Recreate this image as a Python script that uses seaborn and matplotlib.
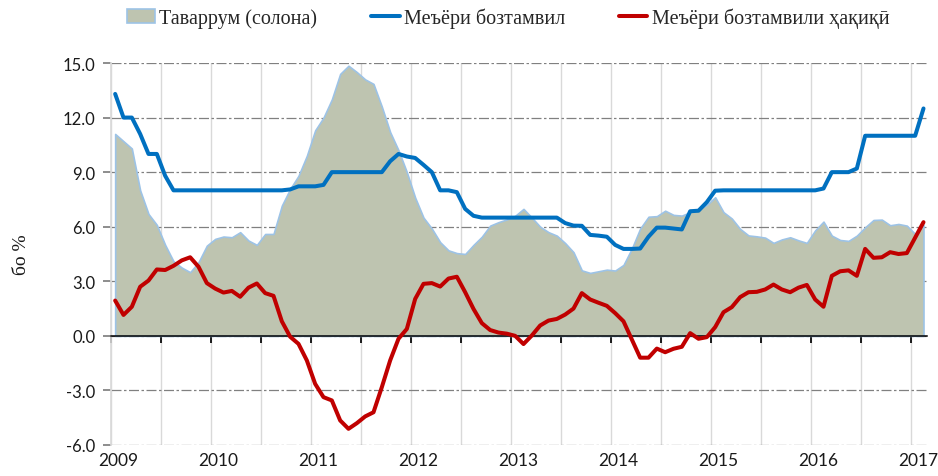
import numpy as np
import pandas as pd
import matplotlib
matplotlib.use("Agg")
import matplotlib.pyplot as plt
from matplotlib.patches import Patch
from matplotlib.lines import Line2D
from matplotlib.ticker import FormatStrFormatter
import seaborn as sns

# monthly data, Jan 2009 - Feb 2017
months = pd.date_range("2009-01-01", periods=98, freq="MS")

inflation = [11.1, 10.7, 10.3, 8.0, 6.7, 6.1, 5.0, 4.1, 3.75, 3.5,
             4.05, 4.96, 5.33, 5.46, 5.42, 5.7, 5.24, 5.0, 5.6, 5.6,
             7.16, 8.08, 8.8, 9.9, 11.3, 12.0, 13.0, 14.4, 14.85, 14.5,
             14.1, 13.85, 12.6, 11.2, 10.2, 9.0, 7.6, 6.5, 5.9, 5.15,
             4.7, 4.55, 4.5, 5.0, 5.45, 6.06, 6.25, 6.4, 6.6, 6.98,
             6.5, 6.0, 5.7, 5.51, 5.1, 4.6, 3.6, 3.46, 3.55, 3.64,
             3.59, 3.9, 4.8, 5.9, 6.55, 6.58, 6.88, 6.65, 6.61, 6.8,
             6.98, 7.2, 7.62, 6.8, 6.45, 5.88, 5.52, 5.47, 5.4, 5.11,
             5.3, 5.42, 5.25, 5.11, 5.8, 6.28, 5.51, 5.27, 5.22, 5.51,
             5.97, 6.37, 6.39, 6.08, 6.15, 6.06, 5.6, 6.1]

refi_rate = [13.3, 12.0, 12.0, 11.1, 10.0, 10.0, 8.8, 8.0,
             8.0, 8.0, 8.0, 8.0, 8.0, 8.0, 8.0, 8.0, 8.0, 8.0, 8.0, 8.0, 8.0,
             8.05, 8.22, 8.22, 8.22, 8.3, 9.0, 9.0, 9.0, 9.0, 9.0, 9.0, 9.0,
             9.6, 10.0, 9.86, 9.78, 9.4, 9.0, 8.0, 8.0, 7.9, 6.98, 6.6,
             6.5, 6.5, 6.5, 6.5, 6.5, 6.5, 6.5, 6.5, 6.5, 6.5,
             6.2, 6.06, 6.05, 5.55, 5.51, 5.45, 5.0, 4.78, 4.78, 4.8,
             5.45, 5.95, 5.95, 5.9, 5.85, 6.85, 6.88, 7.35, 7.98,
             8.0, 8.0, 8.0, 8.0, 8.0, 8.0, 8.0, 8.0, 8.0, 8.0, 8.0, 8.0,
             8.1, 9.0, 9.0, 9.0, 9.2, 11.0,
             11.0, 11.0, 11.0, 11.0, 11.0, 11.0, 12.5]

real_rate = [1.94, 1.15, 1.6, 2.7, 3.04, 3.65, 3.62, 3.85, 4.15, 4.32,
             3.8, 2.9, 2.6, 2.38, 2.47, 2.15, 2.65, 2.88, 2.35, 2.2,
             0.8, -0.05, -0.44, -1.35, -2.64, -3.37, -3.55, -4.65, -5.11, -4.8,
             -4.43, -4.2, -2.82, -1.35, -0.16, 0.38, 2.03, 2.86, 2.9, 2.71,
             3.15, 3.25, 2.4, 1.48, 0.7, 0.32, 0.18, 0.12, 0.0, -0.45,
             0.02, 0.57, 0.84, 0.93, 1.17, 1.5, 2.35, 2.0, 1.82, 1.65,
             1.25, 0.8, -0.2, -1.2, -1.2, -0.7, -0.9, -0.71, -0.6, 0.15,
             -0.16, -0.07, 0.48, 1.3, 1.58, 2.13, 2.4, 2.42, 2.55, 2.82,
             2.55, 2.4, 2.65, 2.8, 2.0, 1.6, 3.3, 3.55, 3.6, 3.3,
             4.78, 4.29, 4.32, 4.6, 4.5, 4.55, 5.4, 6.25]

year_labels = ["2009", "2010", "2011", "2012", "2013", "2014", "2015", "2016", "2017"]
legend_labels = ["Таваррум (солона)", "Меъёри бозтамвил", "Меъёри бозтамвили ҳақиқӣ"]

df = pd.DataFrame({
    "t": months.year + (months.month - 0.5) / 12,
    "inflation": inflation,
    "refi": refi_rate,
    "real": real_rate,
})

fill_c = "#BEC4B0"
edge_c = "#9DC3E6"
blue = "#0070C0"
red = "#C00000"

sns.set_theme(style="white")
plt.rcParams["font.family"] = ["Lato", "DejaVu Sans"]
plt.rcParams["axes.unicode_minus"] = False
serif = ["Liberation Serif", "DejaVu Serif"]

fig = plt.figure(figsize=(9.38, 4.77), dpi=100)
ax = fig.add_axes([111 / 938, 31 / 477, 816 / 938, 382 / 477])

ax.fill_between(df["t"], 0, df["inflation"], facecolor=fill_c,
                edgecolor=edge_c, linewidth=1.2, zorder=1)
sns.lineplot(data=df, x="t", y="refi", color=blue, linewidth=2.9, ax=ax,
             zorder=3, solid_joinstyle="round", solid_capstyle="round")
sns.lineplot(data=df, x="t", y="real", color=red, linewidth=2.9, ax=ax,
             zorder=3, solid_joinstyle="round", solid_capstyle="round")

ax.set_xlim(2009.0, 2017.16)
ax.set_ylim(-6, 15)
ax.set_xlabel("")
ax.set_ylabel("бо %", family=serif, fontsize=14, color="#1a1a1a")
ax.yaxis.set_label_coords(-0.099, 0.5)

# grid
ax.set_axisbelow(True)
ax.set_xticks(np.arange(2009, 2017.01, 0.5))
ax.set_yticks(np.arange(-6, 15.1, 3))
ax.yaxis.set_major_formatter(FormatStrFormatter("%.1f"))
ax.grid(axis="x", color="#D9D9D9", linewidth=1)
ax.grid(axis="y", color="#808080", linewidth=0.9, linestyle=(0, (8, 2, 2, 2)))

for s in ["top", "right"]:
    ax.spines[s].set_visible(False)
ax.spines["left"].set_color("#D9D9D9")
ax.spines["bottom"].set_position(("data", 0))
ax.spines["bottom"].set_color("black")
ax.spines["bottom"].set_linewidth(1.1)
ax.spines["bottom"].set_zorder(2.5)

ax.tick_params(axis="x", direction="out", length=5, color="black",
               labelbottom=False, bottom=True)
ax.tick_params(axis="y", direction="out", length=6, color="#808080",
               labelsize=12, labelcolor="#1a1a1a", pad=5, left=True)

ax2 = ax.secondary_xaxis("bottom")
ax2.set_xticks(np.arange(2009, 2018) + 0.07, labels=year_labels)
ax2.tick_params(length=0, labelsize=12.5, labelcolor="#1a1a1a", pad=5)
ax2.spines["bottom"].set_visible(False)

handles = [Patch(facecolor=fill_c, edgecolor=edge_c, linewidth=1.2),
           Line2D([], [], color=blue, linewidth=2.9),
           Line2D([], [], color=red, linewidth=2.9)]
fig.legend(handles, legend_labels, loc="center", bbox_to_anchor=(508 / 938, 1 - 19 / 477),
           ncol=3, frameon=False, prop={"family": serif, "size": 14.5},
           handlelength=1.4, handletextpad=0.2, columnspacing=2.7)

fig.savefig("out.png", dpi=100)
plt.close(fig)
